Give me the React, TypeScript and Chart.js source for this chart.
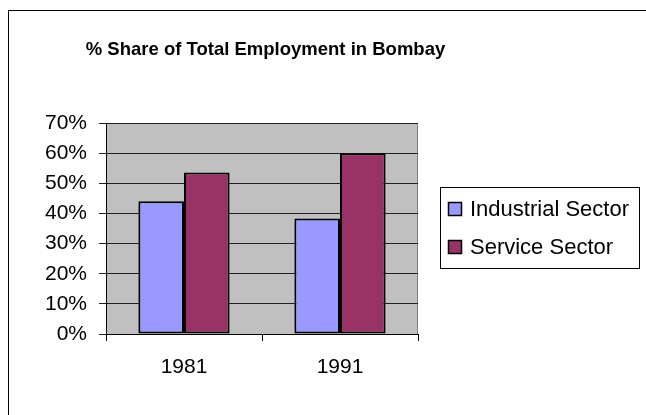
import React, { useEffect, useRef } from "react";
import { Chart, registerables } from "chart.js";

Chart.register(...registerables);

const TITLE = "% Share of Total Employment in Bombay";
const categories = ["1981", "1991"];
const seriesNames = ["Industrial Sector", "Service Sector"];
const industrial = [44, 38.3];
const service = [53.6, 60];
const seriesColors = ["#9999FF", "#993366"];
const yTicks = [0, 10, 20, 30, 40, 50, 60, 70];

const FONT = "Arial, 'Liberation Sans', sans-serif";

const decor = {
  id: "decor",
  beforeDraw(chart: any) {
    const { ctx, chartArea } = chart;
    ctx.save();
    ctx.fillStyle = "#ffffff";
    ctx.fillRect(0, 0, chart.width, chart.height);
    // outer frame
    ctx.strokeStyle = "#000000";
    ctx.lineWidth = 1;
    ctx.strokeRect(8.5, 10.5, chart.width + 20, chart.height + 20);
    // plot area
    ctx.fillStyle = "#C0C0C0";
    ctx.fillRect(chartArea.left, chartArea.top, chartArea.right - chartArea.left, chartArea.bottom - chartArea.top);
    ctx.strokeStyle = "#808080";
    ctx.beginPath();
    ctx.moveTo(chartArea.left, chartArea.top + 0.5);
    ctx.lineTo(chartArea.right - 0.5, chartArea.top + 0.5);
    ctx.lineTo(chartArea.right - 0.5, chartArea.bottom);
    ctx.stroke();
    ctx.restore();
  },
  afterDraw(chart: any) {
    const { ctx } = chart;
    ctx.save();
    // title
    ctx.fillStyle = "#000000";
    ctx.font = `bold 18.5px ${FONT}`;
    ctx.textAlign = "center";
    ctx.textBaseline = "alphabetic";
    ctx.fillText(TITLE, 265.5, 55);
    // legend
    const lx = 440.5, ly = 187.5, lw = 199, lh = 81;
    ctx.strokeStyle = "#000000";
    ctx.lineWidth = 1;
    ctx.fillStyle = "#ffffff";
    ctx.fillRect(lx, ly, lw, lh);
    ctx.strokeRect(lx, ly, lw, lh);
    const rows = [216, 254];
    ctx.font = `22px ${FONT}`;
    ctx.textAlign = "left";
    seriesNames.forEach((name, i) => {
      const base = rows[i];
      ctx.fillStyle = seriesColors[i];
      ctx.fillRect(448, base - 14, 14, 14);
      ctx.strokeStyle = "#000000";
      ctx.lineWidth = 1.5;
      ctx.strokeRect(448.5, base - 13.5, 13, 13);
      ctx.fillStyle = "#000000";
      ctx.fillText(name, 470, base);
    });
    ctx.restore();
  },
};

export default function App() {
  const ref = useRef<HTMLCanvasElement>(null);
  useEffect(() => {
    if (!ref.current) return;
    const chart = new Chart(ref.current, {
      type: "bar",
      data: {
        labels: categories,
        datasets: [
          {
            label: seriesNames[0],
            data: industrial,
            backgroundColor: seriesColors[0],
            borderColor: "#000000",
            borderWidth: 2,
            borderSkipped: false,
          },
          {
            label: seriesNames[1],
            data: service,
            backgroundColor: seriesColors[1],
            borderColor: "#000000",
            borderWidth: 2,
            borderSkipped: false,
          },
        ],
      },
      options: {
        responsive: false,
        animation: false,
        devicePixelRatio: 1,
        layout: { padding: { left: 0, top: 123, right: 228, bottom: 0 } },
        plugins: { legend: { display: false }, title: { display: false }, tooltip: { enabled: false } },
        datasets: { bar: { categoryPercentage: 0.585, barPercentage: 1 } },
        scales: {
          x: {
            afterFit: (s: any) => { s.height = 81; },
            grid: { drawOnChartArea: false, drawTicks: true, tickLength: 7, color: "#000000", offset: true },
            border: { display: true, color: "#000000", width: 1 },
            ticks: { color: "#000000", font: { family: FONT, size: 21 }, padding: 14 },
          },
          y: {
            min: 0,
            max: 70,
            afterFit: (s: any) => { s.width = 106; },
            afterBuildTicks: (s: any) => { s.ticks = yTicks.map((v) => ({ value: v })); },
            grid: { color: "#202020", tickLength: 7, lineWidth: 1 },
            border: { display: true, color: "#000000", width: 1 },
            ticks: {
              color: "#000000",
              font: { family: FONT, size: 21 },
              padding: 12,
              callback: (v: any) => `${v}%`,
            },
          },
        },
      },
      plugins: [decor],
    });
    return () => chart.destroy();
  }, []);
  return (
    <div style={{ position: "absolute", left: 0, top: 0, width: 646, height: 415 }}>
      <canvas ref={ref} width={646} height={415} style={{ display: "block" }} />
    </div>
  );
}
